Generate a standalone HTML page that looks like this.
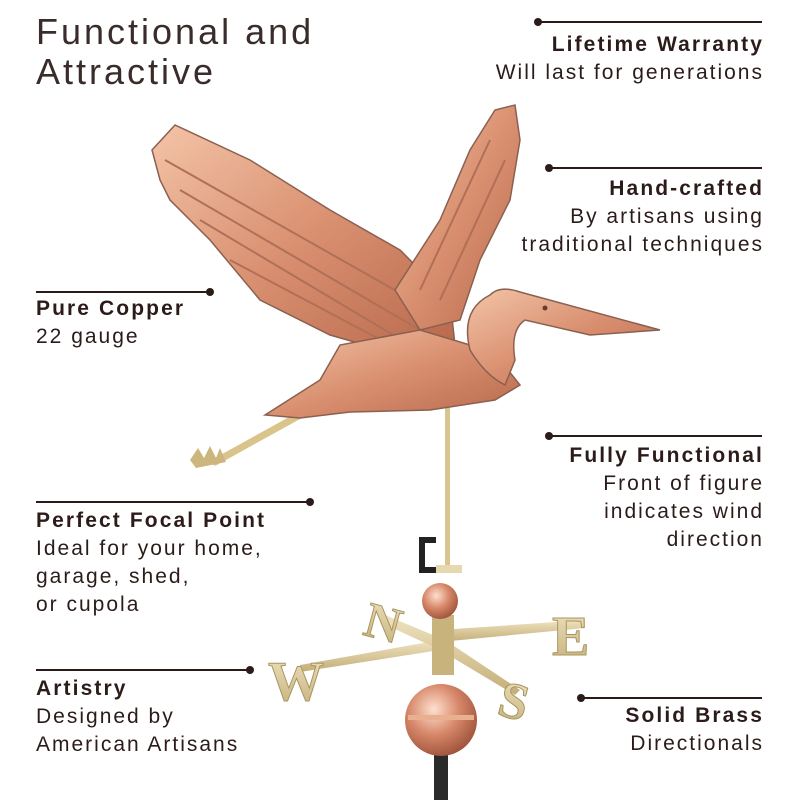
<!DOCTYPE html><html><head><style>
body{margin:0;width:800px;height:800px;background:#fff;position:relative;overflow:hidden;font-family:"Liberation Sans",sans-serif;color:#2b1c1a}
.t{position:absolute;font-size:21px;line-height:28px;white-space:nowrap;letter-spacing:2px}
.t b{font-weight:bold;letter-spacing:2.1px}
.r{text-align:right;right:36px}
.l{left:36px}
.ln{position:absolute;height:2px;background:#2b1c1a}
.d{position:absolute;width:8px;height:8px;border-radius:50%;background:#2b1c1a}
</style></head><body>
<svg width="800" height="800" style="position:absolute;left:0;top:0">
<defs>
<linearGradient id="cu" x1="0" y1="0" x2="1" y2="1"><stop offset="0" stop-color="#f4c4a8"/><stop offset=".5" stop-color="#d99070"/><stop offset="1" stop-color="#b8684c"/></linearGradient>
<linearGradient id="br" x1="0" y1="0" x2="0" y2="1"><stop offset="0" stop-color="#efe3c0"/><stop offset="1" stop-color="#c4ae78"/></linearGradient>
<radialGradient id="ball" cx=".4" cy=".35" r=".7"><stop offset="0" stop-color="#fde0d0"/><stop offset=".5" stop-color="#d8886a"/><stop offset="1" stop-color="#9a5038"/></radialGradient>
</defs>
<rect x="434" y="740" width="14" height="60" fill="#2a2a2a"/>
<rect x="445" y="400" width="5" height="165" fill="#d8c590"/>
<path d="M436 540 h-14 v30 h14" fill="none" stroke="#222" stroke-width="6"/>
<rect x="436" y="565" width="26" height="8" fill="#e6d9b0"/>
<path d="M300 665 L440 640 L440 650 L300 672Z" fill="url(#br)"/>
<path d="M440 630 L585 620 L585 628 L440 642Z" fill="url(#br)"/>
<path d="M385 615 L445 640 L520 690 L515 695 L440 650 L380 622Z" fill="url(#br)"/>
<text x="268" y="700" font-family="Liberation Serif" font-weight="bold" font-size="56" fill="url(#br)" stroke="#a89660" stroke-width="1">W</text>
<text x="366" y="640" font-family="Liberation Serif" font-weight="bold" font-size="50" fill="url(#br)" stroke="#a89660" stroke-width="1" transform="rotate(15 385 620)">N</text>
<text x="552" y="655" font-family="Liberation Serif" font-weight="bold" font-size="56" fill="url(#br)" stroke="#a89660" stroke-width="1">E</text>
<text x="500" y="720" font-family="Liberation Serif" font-weight="bold" font-size="52" fill="url(#br)" stroke="#a89660" stroke-width="1" transform="rotate(15 520 700)">S</text>
<rect x="432" y="615" width="22" height="60" fill="#c9b37c"/>
<circle cx="440" cy="601" r="18" fill="url(#ball)"/>
<ellipse cx="441" cy="720" rx="36" ry="36" fill="url(#ball)"/>
<rect x="408" y="715" width="66" height="5" fill="#e9b090"/>
<path d="M300 415 L215 462" stroke="#d9c48c" stroke-width="7" stroke-linecap="round"/>
<path d="M190 460 l8 -12 l6 10 l6 -12 l6 12 l4 -10 l6 14 l-30 6z" fill="#cdb67e"/>
<path d="M152 150 L175 125 L250 160 L330 210 L400 250 L450 300 L455 345 L400 355 L330 335 L260 300 L210 240 L170 200 L160 180Z" fill="url(#cu)" stroke="#8a6050" stroke-width="1.5"/>
<g stroke="#b07058" stroke-width="2" fill="none">
<path d="M180 190 L420 330"/><path d="M200 220 L410 345"/><path d="M230 260 L400 350"/><path d="M165 160 L430 310"/></g>
<path d="M395 290 L440 220 L470 150 L495 110 L515 105 L520 140 L510 200 L480 260 L460 320 L420 330Z" fill="url(#cu)" stroke="#8a6050" stroke-width="1.5"/>
<g stroke="#b07058" stroke-width="2" fill="none"><path d="M420 290 L490 140"/><path d="M440 300 L505 160"/></g>
<path d="M265 415 L320 380 L340 345 L420 330 L470 345 L500 360 L520 385 L495 400 L430 410 L350 412 L300 418Z" fill="url(#cu)" stroke="#8a6050" stroke-width="1.5"/>
<path d="M470 350 Q460 310 490 295 Q500 285 520 292 L660 330 L590 335 L525 320 Q510 330 515 360 L505 385 Q485 375 470 350Z" fill="url(#cu)" stroke="#8a6050" stroke-width="1.5"/>
<circle cx="545" cy="308" r="2.5" fill="#6a3a2a"/>
</svg>
<div class="t l" style="top:12px;font-size:36px;line-height:40px;letter-spacing:3px;color:#3a2c2a">Functional and<br>Attractive</div>

<div class="ln" style="left:540px;top:21px;width:222px"></div><div class="d" style="left:534px;top:18px"></div>
<div class="t r" style="top:31px"><b>Lifetime Warranty</b><br>Will last for generations</div>

<div class="ln" style="left:550px;top:167px;width:212px"></div><div class="d" style="left:545px;top:164px"></div>
<div class="t r" style="top:175px"><b>Hand-crafted</b><br>By artisans using<br>traditional techniques</div>

<div class="ln" style="left:36px;top:291px;width:174px"></div><div class="d" style="left:206px;top:288px"></div>
<div class="t l" style="top:295px"><b>Pure Copper</b><br>22 gauge</div>

<div class="ln" style="left:550px;top:435px;width:212px"></div><div class="d" style="left:545px;top:432px"></div>
<div class="t r" style="top:442px"><b>Fully Functional</b><br>Front of figure<br>indicates wind<br>direction</div>

<div class="ln" style="left:36px;top:501px;width:274px"></div><div class="d" style="left:306px;top:498px"></div>
<div class="t l" style="top:507px"><b>Perfect Focal Point</b><br>Ideal for your home,<br>garage, shed,<br>or cupola</div>

<div class="ln" style="left:36px;top:669px;width:214px"></div><div class="d" style="left:246px;top:666px"></div>
<div class="t l" style="top:675px"><b>Artistry</b><br>Designed by<br>American Artisans</div>

<div class="ln" style="left:582px;top:697px;width:180px"></div><div class="d" style="left:577px;top:694px"></div>
<div class="t r" style="top:702px"><b>Solid Brass</b><br>Directionals</div>
</body></html>
